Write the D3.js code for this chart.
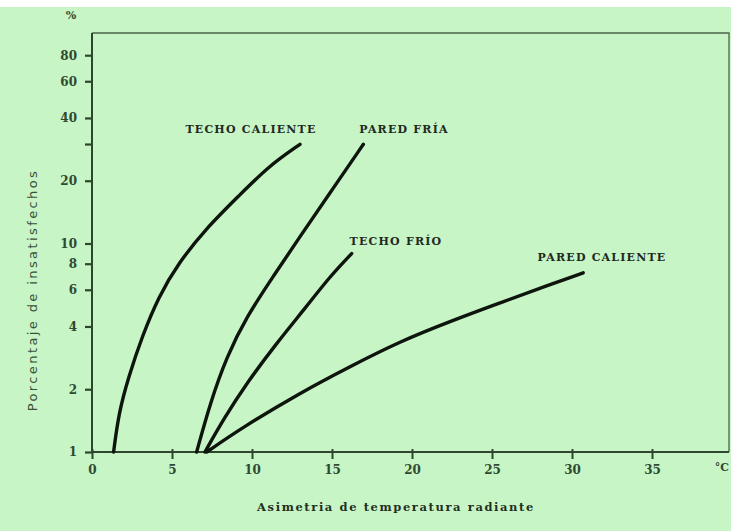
<!DOCTYPE html>
<html lang="es">
<head>
<meta charset="utf-8">
<title>Asimetría de temperatura radiante</title>
<script src="https://d3js.org/d3.v7.min.js"></script>
<style>
  html, body { margin: 0; padding: 0; background: #ffffff; }
  svg { display: block; }
  .tick text { font-family: "DejaVu Serif", serif; font-weight: bold; font-size: 12px; fill: #2f4a30; }
  .label { font-family: "DejaVu Serif", serif; font-weight: bold; font-size: 11px; fill: #1f2a1f; letter-spacing: 1.2px; }
</style>
</head>
<body>
<div id="chart"></div>
<script>
// curves: temperature asymmetry (°C) vs percent dissatisfied
var techoCaliente = [[1.35, 1], [1.67, 1.54], [2.29, 2.3], [3.13, 3.58], [4.17, 5.58], [5.42, 8.08],
  [7.08, 11.7], [9.17, 16.9], [11.04, 23.5], [13.0, 29.9]];
var paredFria = [[6.54, 1], [7.38, 1.71], [8.42, 2.87], [9.67, 4.47], [11.33, 6.96], [13.0, 10.8],
  [14.88, 17.5], [16.96, 29.9]];
var techoFrio = [[7.06, 1], [8.2, 1.43], [9.67, 2.14], [11.54, 3.33], [13.42, 5.0], [14.88, 6.96], [16.23, 8.95]];
var paredCaliente = [[7.17, 1], [9.46, 1.32], [13.0, 1.92], [16.13, 2.57], [19.25, 3.39], [22.38, 4.23],
  [25.5, 5.19], [28.63, 6.35], [30.7, 7.23]];

var seriesNames = ["TECHO CALIENTE", "PARED FRÍA", "TECHO FRÍO", "PARED CALIENTE"];
var xTicks = [0, 5, 10, 15, 20, 25, 30, 35];
var yTicks = [1, 2, 4, 6, 8, 10, 20, 30, 40, 60, 80];

var W = 731, H = 531;
var svg = d3.select("#chart").append("svg").attr("width", W).attr("height", H);

svg.append("rect").attr("x", 0).attr("y", 7).attr("width", W).attr("height", H - 7).attr("fill", "#c8f5c6");

var x = d3.scaleLinear().domain([0, 40]).range([92, 732]);
var y = d3.scaleLog().domain([1, 100]).range([452, 35]);

// frame
svg.append("path")
  .attr("d", "M92,33H729V452")
  .attr("fill", "none").attr("stroke", "#4a644a").attr("stroke-width", 1.3);

var xAxis = svg.append("g").attr("transform", "translate(0,452)")
  .call(d3.axisBottom(x).tickValues(xTicks).tickSize(7).tickPadding(6).tickFormat(d3.format("d")));
xAxis.select(".domain").attr("d", "M92,0H729").attr("stroke", "#2e452e").attr("stroke-width", 2);
xAxis.selectAll(".tick line").attr("stroke", "#2e452e").attr("stroke-width", 2).attr("y1", -3);

var yAxis = svg.append("g").attr("transform", "translate(92,0)")
  .call(d3.axisLeft(y).tickValues(yTicks).tickSize(7).tickPadding(8)
    .tickFormat(function(d) { return d === 30 ? "" : d; }));
yAxis.select(".domain").attr("d", "M0,33V452").attr("stroke", "#2e452e").attr("stroke-width", 2);
yAxis.selectAll(".tick line").attr("stroke", "#2e452e").attr("stroke-width", 2.2);

svg.append("text").attr("x", 71).attr("y", 19).attr("text-anchor", "middle")
  .style("font-family", "DejaVu Serif, serif").style("font-weight", "bold").style("font-size", "11px")
  .style("fill", "#2f4a30").text("%");
svg.append("text").attr("x", 722).attr("y", 471).attr("text-anchor", "middle")
  .style("font-family", "DejaVu Serif, serif").style("font-weight", "bold").style("font-size", "11px")
  .style("fill", "#2f4a30").text("°C");

var line = d3.line()
  .x(function(d) { return x(d[0]); })
  .y(function(d) { return y(d[1]); })
  .curve(d3.curveBasis);

var curves = [techoCaliente, paredFria, techoFrio, paredCaliente];
svg.selectAll("path.curve").data(curves).enter().append("path")
  .attr("class", "curve")
  .attr("d", line)
  .attr("fill", "none").attr("stroke", "#0d150d").attr("stroke-width", 3.4).attr("stroke-linecap", "round");

// curve labels
var labelPos = [[251, 133], [404, 133], [396, 245], [602, 261]];
svg.selectAll("text.label").data(seriesNames).enter().append("text")
  .attr("class", "label")
  .attr("x", function(d, i) { return labelPos[i][0]; })
  .attr("y", function(d, i) { return labelPos[i][1]; })
  .attr("text-anchor", "middle")
  .text(function(d) { return d; });

// axis titles
svg.append("text").attr("x", 396).attr("y", 511).attr("text-anchor", "middle")
  .style("font-family", "DejaVu Serif, serif").style("font-weight", "bold").style("font-size", "11.5px")
  .style("letter-spacing", "1.6px").style("fill", "#1f2f1f")
  .text("Asimetria de temperatura radiante");

svg.append("text").attr("transform", "translate(37,290) rotate(-90)").attr("text-anchor", "middle")
  .style("font-family", "DejaVu Sans, sans-serif").style("font-size", "13px")
  .style("letter-spacing", "2.4px").style("fill", "#3a4f3a")
  .text("Porcentaje de insatisfechos");
</script>
</body>
</html>
